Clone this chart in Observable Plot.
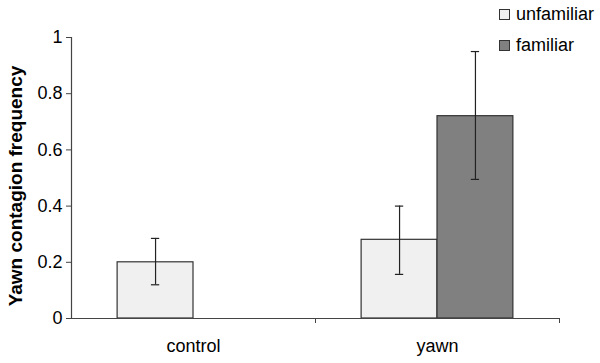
<!DOCTYPE html>
<html>
<head>
<meta charset="utf-8">
<script src="https://cdn.jsdelivr.net/npm/d3@7"></script>
<script src="https://cdn.jsdelivr.net/npm/@observablehq/plot@0.6"></script>
<style>
  html, body { margin: 0; padding: 0; background: #fff; }
  #wrap { position: relative; width: 600px; height: 363px; font-family: "Liberation Sans", Arial, sans-serif; }
  #legend { position: absolute; left: 499px; top: 3px; font-size: 18px; color: #000; }
  .row { display: flex; align-items: center; height: 22px; margin-bottom: 9px; }
  .sw { width: 9px; height: 9px; border: 1px solid #333; margin-right: 6px; }
  #ylabel { position: absolute; left: 16px; top: 186px; transform: translate(-50%, -50%) rotate(-90deg); white-space: nowrap; font-weight: bold; font-size: 19px; color: #000; }
</style>
</head>
<body>
<div id="wrap"><div id="legend"></div><div id="ylabel"></div></div>
<script>
const categories = ["control", "yawn"];
const series = ["unfamiliar", "familiar"];
const colors = ["#f0f0f0", "#808080"];
const unfamiliarValues = [0.20, 0.28];
const unfamiliarLow = [0.12, 0.157];
const unfamiliarHigh = [0.285, 0.40];
const familiarValues = [null, 0.72];
const familiarLow = [null, 0.495];
const familiarHigh = [null, 0.95];
const yTicks = [0, 0.2, 0.4, 0.6, 0.8, 1];
const yLabel = "Yawn contagion frequency";

const barW = 0.311;
const data = [];
categories.forEach((c, i) => {
  if (unfamiliarValues[i] != null) data.push({cat: c, ci: i, s: "unfamiliar", si: 0, v: unfamiliarValues[i], lo: unfamiliarLow[i], hi: unfamiliarHigh[i]});
  if (familiarValues[i] != null) data.push({cat: c, ci: i, s: "familiar", si: 1, v: familiarValues[i], lo: familiarLow[i], hi: familiarHigh[i]});
});
const x1 = d => d.ci + 0.5 + (d.si - 1) * barW;
const x2 = d => d.ci + 0.5 + d.si * barW;
const cx = d => (x1(d) + x2(d)) / 2;
const cap = 0.017;

const chart = Plot.plot({
  width: 600,
  height: 363,
  marginLeft: 71,
  marginRight: 41,
  marginTop: 37,
  marginBottom: 45,
  style: {fontFamily: "Liberation Sans, Arial, sans-serif", fontSize: "18px", color: "#000", background: "#fff"},
  x: {domain: [0, categories.length], axis: null},
  y: {domain: [0, 1], axis: null},
  color: {domain: series, range: colors},
  marks: [
    Plot.rectY(data, {x1, x2, y1: 0, y2: "v", fill: "s", stroke: "#333", strokeWidth: 1.2}),
    Plot.ruleX(data, {x: cx, y1: "lo", y2: "hi", stroke: "#222", strokeWidth: 1.2}),
    Plot.ruleY(data, {y: "lo", x1: d => cx(d) - cap, x2: d => cx(d) + cap, stroke: "#222", strokeWidth: 1.2}),
    Plot.ruleY(data, {y: "hi", x1: d => cx(d) - cap, x2: d => cx(d) + cap, stroke: "#222", strokeWidth: 1.2}),
    Plot.ruleX([0], {y1: 0, y2: 1, stroke: "#444", strokeWidth: 1.2}),
    Plot.ruleY([0], {x1: 0, x2: categories.length, stroke: "#444", strokeWidth: 1.2}),
    Plot.axisY({ticks: yTicks, tickFormat: d => `${d}`, tickSize: 5, tickPadding: 4, stroke: "#444", fontSize: 18, label: null}),
    Plot.axisX({ticks: d3.range(1, categories.length + 1), tickFormat: () => "", tickSize: 5, stroke: "#444", label: null}),
    Plot.axisX({ticks: categories.map((c, i) => i + 0.5), tickFormat: v => categories[Math.floor(v)], tickSize: 0, tickPadding: 21, fontSize: 18, label: null})
  ]
});
document.getElementById("wrap").prepend(chart);
document.getElementById("ylabel").textContent = yLabel;

const legend = document.getElementById("legend");
series.forEach((s, i) => {
  const row = document.createElement("div");
  row.className = "row";
  const sw = document.createElement("div");
  sw.className = "sw";
  sw.style.background = colors[i];
  const t = document.createElement("span");
  t.textContent = s;
  row.append(sw, t);
  legend.append(row);
});
</script>
</body>
</html>
